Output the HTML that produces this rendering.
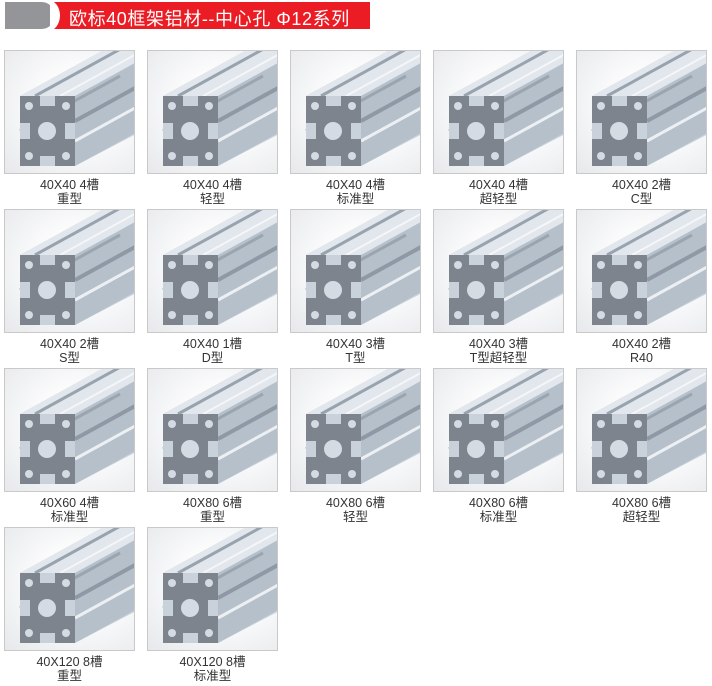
<!DOCTYPE html>
<html><head><meta charset="utf-8">
<style>
body{margin:0;width:712px;height:686px;background:#fff;position:relative;overflow:hidden;font-family:"Liberation Sans","Noto Sans CJK SC",sans-serif}
.hd1{position:absolute;left:5px;top:2px;width:50px;height:27px;background:#939598;border-radius:0 14px 14px 0}
.hd2{position:absolute;left:50px;top:2px;width:320px;height:27px;background:#ec1c24;overflow:hidden}
.hd2:before{content:"";position:absolute;left:-14px;top:-2px;width:24px;height:31px;border-radius:50%;background:#fff}
.hd2 span{position:absolute;left:19px;top:3px;color:#fff;font-size:18px;letter-spacing:0.6px;white-space:nowrap}
.t{position:absolute;width:129px;height:122px;border:1px solid #c9c9c9;background:radial-gradient(ellipse at 60% 45%,#fff 30%,#e6e8eb 100%);overflow:hidden}
.t svg{position:absolute;left:0;top:0}
.l{position:absolute;width:131px;text-align:center;font-size:12.5px;line-height:14px;color:#333}
</style></head><body>
<div class="hd1"></div><div class="hd2"><span>欧标40框架铝材--中心孔 Φ12系列</span></div>
<svg width="0" height="0" style="position:absolute">
<defs>
<symbol id="p" viewBox="0 0 129 122">
<polygon points="15,45 115,-10 175,-10 175,60 70,115 15,115" fill="#c9d1da"/>
<polygon points="15,45 70,45 170,-10 115,-10" fill="#e2e7ed"/>
<polygon points="70,45 170,-10 170,60 70,115" fill="#b6c0cb"/>
<line x1="30" y1="45" x2="130" y2="-10" stroke="#98a3ae" stroke-width="3"/>
<line x1="55" y1="45" x2="155" y2="-10" stroke="#f4f6f8" stroke-width="2"/>
<line x1="70" y1="70" x2="170" y2="15" stroke="#8e99a5" stroke-width="4"/>
<line x1="70" y1="90" x2="170" y2="35" stroke="#edf0f3" stroke-width="3"/>
<line x1="15" y1="80" x2="115" y2="25" stroke="#9aa5b0" stroke-width="3"/>
<rect x="15" y="45" width="55" height="70" fill="#7d848d"/>
<rect x="35" y="45" width="15" height="10" fill="#c9d1da"/>
<rect x="35" y="105" width="15" height="10" fill="#c9d1da"/>
<rect x="15" y="72" width="10" height="16" fill="#c9d1da"/>
<rect x="60" y="72" width="10" height="16" fill="#c9d1da"/>
<circle cx="42" cy="80" r="9" fill="#d5dbe2"/>
<circle cx="24" cy="55" r="4" fill="#d5dbe2"/><circle cx="61" cy="55" r="4" fill="#d5dbe2"/>
<circle cx="24" cy="105" r="4" fill="#d5dbe2"/><circle cx="61" cy="105" r="4" fill="#d5dbe2"/>
</symbol>
</defs></svg>

<div class="t" style="left:4px;top:50px"><svg width="129" height="122"><use href="#p"/></svg></div>
<div class="t" style="left:147px;top:50px"><svg width="129" height="122"><use href="#p"/></svg></div>
<div class="t" style="left:290px;top:50px"><svg width="129" height="122"><use href="#p"/></svg></div>
<div class="t" style="left:433px;top:50px"><svg width="129" height="122"><use href="#p"/></svg></div>
<div class="t" style="left:576px;top:50px"><svg width="129" height="122"><use href="#p"/></svg></div>
<div class="l" style="left:4px;top:178px">40X40 4槽<br>重型</div>
<div class="l" style="left:147px;top:178px">40X40 4槽<br>轻型</div>
<div class="l" style="left:290px;top:178px">40X40 4槽<br>标准型</div>
<div class="l" style="left:433px;top:178px">40X40 4槽<br>超轻型</div>
<div class="l" style="left:576px;top:178px">40X40 2槽<br>C型</div>

<div class="t" style="left:4px;top:209px"><svg width="129" height="122"><use href="#p"/></svg></div>
<div class="t" style="left:147px;top:209px"><svg width="129" height="122"><use href="#p"/></svg></div>
<div class="t" style="left:290px;top:209px"><svg width="129" height="122"><use href="#p"/></svg></div>
<div class="t" style="left:433px;top:209px"><svg width="129" height="122"><use href="#p"/></svg></div>
<div class="t" style="left:576px;top:209px"><svg width="129" height="122"><use href="#p"/></svg></div>
<div class="l" style="left:4px;top:337px">40X40 2槽<br>S型</div>
<div class="l" style="left:147px;top:337px">40X40 1槽<br>D型</div>
<div class="l" style="left:290px;top:337px">40X40 3槽<br>T型</div>
<div class="l" style="left:433px;top:337px">40X40 3槽<br>T型超轻型</div>
<div class="l" style="left:576px;top:337px">40X40 2槽<br>R40</div>

<div class="t" style="left:4px;top:368px"><svg width="129" height="122"><use href="#p"/></svg></div>
<div class="t" style="left:147px;top:368px"><svg width="129" height="122"><use href="#p"/></svg></div>
<div class="t" style="left:290px;top:368px"><svg width="129" height="122"><use href="#p"/></svg></div>
<div class="t" style="left:433px;top:368px"><svg width="129" height="122"><use href="#p"/></svg></div>
<div class="t" style="left:576px;top:368px"><svg width="129" height="122"><use href="#p"/></svg></div>
<div class="l" style="left:4px;top:496px">40X60 4槽<br>标准型</div>
<div class="l" style="left:147px;top:496px">40X80 6槽<br>重型</div>
<div class="l" style="left:290px;top:496px">40X80 6槽<br>轻型</div>
<div class="l" style="left:433px;top:496px">40X80 6槽<br>标准型</div>
<div class="l" style="left:576px;top:496px">40X80 6槽<br>超轻型</div>

<div class="t" style="left:4px;top:527px"><svg width="129" height="122"><use href="#p"/></svg></div>
<div class="t" style="left:147px;top:527px"><svg width="129" height="122"><use href="#p"/></svg></div>
<div class="l" style="left:4px;top:655px">40X120 8槽<br>重型</div>
<div class="l" style="left:147px;top:655px">40X120 8槽<br>标准型</div>
</body></html>
